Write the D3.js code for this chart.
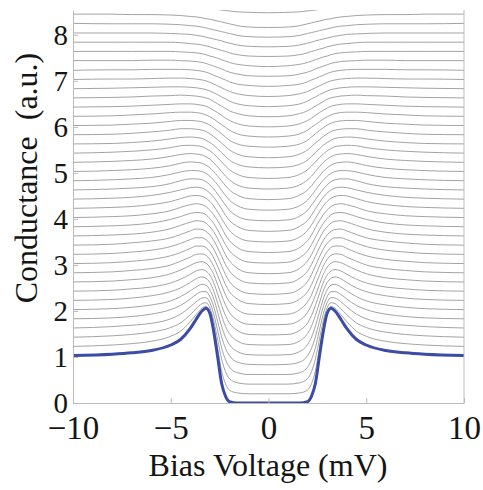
<!DOCTYPE html>
<html lang="en">
<head>
<meta charset="UTF-8">
<title>Conductance spectra</title>
<script src="https://d3js.org/d3.v7.min.js"></script>
<style>
  body { margin: 0; background: #fff; }
  svg text { font-family: "Liberation Serif", "DejaVu Serif", serif; fill: #151515; }
</style>
</head>
<body>
<svg id="chart" width="483" height="490"></svg>
<script>
// bias points (mV), positive half; spectra are read as symmetric
const biasHalf = [0, 1, 1.6, 2, 2.2, 2.4, 2.6, 2.8, 3, 3.2, 3.4, 3.7, 4, 4.5, 5, 6, 7, 8, 10];

// normalized conductance, one row per spectrum (bottom = lowest temperature)
const spectra = [
  [0, 0, 0, 0.03, 0.15, 0.43, 1.0, 1.55, 1.95, 2.06, 2.0, 1.82, 1.62, 1.38, 1.26, 1.14, 1.09, 1.06, 1.03],
  [0.0, 0.0, 0.02, 0.08, 0.22, 0.5, 0.98, 1.45, 1.78, 1.9, 1.86, 1.72, 1.57, 1.36, 1.25, 1.14, 1.09, 1.06, 1.03],
  [0.01, 0.01, 0.04, 0.13, 0.28, 0.56, 0.97, 1.38, 1.67, 1.78, 1.76, 1.65, 1.52, 1.34, 1.24, 1.14, 1.09, 1.06, 1.03],
  [0.02, 0.02, 0.06, 0.18, 0.34, 0.6, 0.97, 1.33, 1.58, 1.69, 1.68, 1.6, 1.49, 1.33, 1.23, 1.13, 1.09, 1.06, 1.03],
  [0.03, 0.04, 0.09, 0.23, 0.39, 0.64, 0.97, 1.29, 1.51, 1.62, 1.62, 1.56, 1.46, 1.32, 1.23, 1.13, 1.08, 1.05, 1.03],
  [0.04, 0.05, 0.12, 0.27, 0.43, 0.67, 0.97, 1.26, 1.46, 1.56, 1.58, 1.52, 1.44, 1.31, 1.22, 1.13, 1.08, 1.05, 1.03],
  [0.06, 0.07, 0.15, 0.31, 0.47, 0.7, 0.97, 1.23, 1.42, 1.51, 1.54, 1.5, 1.42, 1.3, 1.22, 1.13, 1.08, 1.05, 1.03],
  [0.08, 0.09, 0.18, 0.34, 0.5, 0.72, 0.97, 1.21, 1.38, 1.47, 1.5, 1.47, 1.4, 1.29, 1.21, 1.12, 1.08, 1.05, 1.03],
  [0.1, 0.11, 0.2, 0.37, 0.53, 0.74, 0.97, 1.19, 1.35, 1.44, 1.47, 1.45, 1.39, 1.29, 1.21, 1.12, 1.08, 1.05, 1.03],
  [0.12, 0.13, 0.23, 0.4, 0.55, 0.76, 0.97, 1.17, 1.32, 1.41, 1.44, 1.43, 1.37, 1.28, 1.2, 1.12, 1.08, 1.05, 1.03],
  [0.14, 0.16, 0.26, 0.42, 0.57, 0.77, 0.97, 1.15, 1.29, 1.38, 1.41, 1.41, 1.36, 1.27, 1.2, 1.12, 1.08, 1.05, 1.03],
  [0.16, 0.18, 0.28, 0.44, 0.59, 0.78, 0.97, 1.14, 1.27, 1.35, 1.39, 1.39, 1.35, 1.27, 1.2, 1.12, 1.08, 1.05, 1.03],
  [0.19, 0.21, 0.31, 0.47, 0.61, 0.79, 0.97, 1.13, 1.25, 1.33, 1.37, 1.38, 1.34, 1.26, 1.19, 1.12, 1.08, 1.05, 1.03],
  [0.21, 0.23, 0.33, 0.49, 0.62, 0.8, 0.97, 1.12, 1.23, 1.31, 1.35, 1.36, 1.33, 1.26, 1.19, 1.11, 1.07, 1.05, 1.03],
  [0.24, 0.26, 0.36, 0.51, 0.64, 0.8, 0.96, 1.1, 1.21, 1.29, 1.33, 1.34, 1.32, 1.25, 1.19, 1.11, 1.07, 1.05, 1.03],
  [0.27, 0.29, 0.38, 0.53, 0.65, 0.81, 0.96, 1.09, 1.19, 1.27, 1.31, 1.33, 1.31, 1.25, 1.18, 1.11, 1.07, 1.05, 1.03],
  [0.3, 0.32, 0.41, 0.55, 0.67, 0.81, 0.95, 1.08, 1.18, 1.25, 1.29, 1.31, 1.3, 1.24, 1.18, 1.11, 1.07, 1.05, 1.03],
  [0.33, 0.35, 0.44, 0.57, 0.68, 0.82, 0.95, 1.07, 1.16, 1.23, 1.27, 1.29, 1.28, 1.23, 1.18, 1.11, 1.07, 1.05, 1.03],
  [0.36, 0.38, 0.46, 0.59, 0.7, 0.82, 0.94, 1.05, 1.14, 1.21, 1.25, 1.27, 1.27, 1.23, 1.17, 1.1, 1.07, 1.05, 1.03],
  [0.39, 0.41, 0.49, 0.61, 0.71, 0.82, 0.94, 1.04, 1.13, 1.19, 1.23, 1.25, 1.25, 1.22, 1.17, 1.1, 1.07, 1.05, 1.03],
  [0.42, 0.44, 0.52, 0.63, 0.72, 0.83, 0.93, 1.03, 1.11, 1.17, 1.21, 1.23, 1.24, 1.21, 1.16, 1.1, 1.07, 1.05, 1.03],
  [0.45, 0.47, 0.54, 0.65, 0.73, 0.83, 0.93, 1.02, 1.1, 1.15, 1.19, 1.21, 1.22, 1.2, 1.16, 1.1, 1.07, 1.05, 1.03],
  [0.48, 0.5, 0.57, 0.67, 0.75, 0.84, 0.93, 1.01, 1.08, 1.13, 1.17, 1.19, 1.2, 1.19, 1.15, 1.1, 1.07, 1.05, 1.03],
  [0.51, 0.53, 0.59, 0.68, 0.76, 0.84, 0.92, 1.0, 1.06, 1.11, 1.15, 1.17, 1.18, 1.17, 1.14, 1.09, 1.06, 1.04, 1.03],
  [0.53, 0.55, 0.61, 0.7, 0.77, 0.85, 0.92, 0.99, 1.05, 1.1, 1.13, 1.15, 1.16, 1.16, 1.13, 1.09, 1.06, 1.04, 1.03],
  [0.56, 0.58, 0.63, 0.71, 0.78, 0.85, 0.92, 0.98, 1.04, 1.08, 1.11, 1.13, 1.14, 1.14, 1.12, 1.08, 1.06, 1.04, 1.03],
  [0.58, 0.6, 0.65, 0.73, 0.79, 0.85, 0.91, 0.97, 1.02, 1.06, 1.09, 1.11, 1.12, 1.12, 1.11, 1.08, 1.06, 1.04, 1.03],
  [0.6, 0.62, 0.67, 0.74, 0.79, 0.85, 0.91, 0.96, 1.01, 1.05, 1.07, 1.09, 1.1, 1.1, 1.09, 1.07, 1.05, 1.04, 1.03],
  [0.62, 0.64, 0.69, 0.75, 0.8, 0.85, 0.9, 0.95, 1.0, 1.03, 1.05, 1.07, 1.08, 1.09, 1.08, 1.07, 1.05, 1.04, 1.03],
  [0.64, 0.66, 0.7, 0.76, 0.81, 0.85, 0.9, 0.94, 0.98, 1.01, 1.03, 1.05, 1.06, 1.07, 1.07, 1.06, 1.05, 1.04, 1.03],
  [0.66, 0.68, 0.72, 0.77, 0.81, 0.85, 0.89, 0.93, 0.97, 1.0, 1.02, 1.04, 1.05, 1.06, 1.06, 1.05, 1.04, 1.04, 1.03],
  [0.68, 0.7, 0.73, 0.78, 0.82, 0.85, 0.89, 0.92, 0.96, 0.99, 1.01, 1.03, 1.04, 1.05, 1.05, 1.05, 1.04, 1.04, 1.03],
  [0.7, 0.71, 0.75, 0.79, 0.82, 0.86, 0.89, 0.92, 0.95, 0.98, 1.0, 1.02, 1.03, 1.04, 1.05, 1.05, 1.04, 1.04, 1.04],
  [0.71, 0.73, 0.76, 0.8, 0.83, 0.86, 0.89, 0.92, 0.94, 0.97, 0.99, 1.01, 1.02, 1.03, 1.04, 1.04, 1.04, 1.04, 1.04],
  [0.73, 0.74, 0.77, 0.81, 0.84, 0.86, 0.89, 0.91, 0.94, 0.96, 0.98, 1.0, 1.01, 1.03, 1.04, 1.04, 1.04, 1.04, 1.04],
  [0.74, 0.75, 0.78, 0.82, 0.84, 0.87, 0.89, 0.91, 0.93, 0.95, 0.97, 0.99, 1.01, 1.02, 1.03, 1.04, 1.04, 1.04, 1.04],
  [0.75, 0.76, 0.79, 0.83, 0.85, 0.87, 0.89, 0.91, 0.93, 0.95, 0.97, 0.99, 1.0, 1.02, 1.03, 1.04, 1.04, 1.04, 1.05],
  [0.76, 0.77, 0.8, 0.84, 0.86, 0.88, 0.9, 0.92, 0.94, 0.95, 0.97, 0.99, 1.0, 1.02, 1.03, 1.04, 1.04, 1.05, 1.05],
  [0.88, 0.89, 0.9, 0.92, 0.93, 0.94, 0.95, 0.96, 0.97, 0.98, 0.99, 1.0, 1.01, 1.02, 1.03, 1.04, 1.04, 1.05, 1.05]
];

// vertical offset added to each spectrum
const offsets = [0, 0.2, 0.4, 0.6, 0.8, 1.0, 1.2, 1.4, 1.6, 1.8, 2.0, 2.2, 2.4, 2.6, 2.8, 3.0,
  3.2, 3.4, 3.6, 3.8, 4.0, 4.2, 4.4, 4.6, 4.8, 5.0, 5.2, 5.4, 5.6, 5.8, 6.0, 6.2, 6.4, 6.6,
  6.8, 7.0, 7.2, 7.4, 7.6];

const xTicks = [-10, -5, 0, 5, 10];
const yTicks = [0, 1, 2, 3, 4, 5, 6, 7, 8];

const svg = d3.select("#chart");
const x = d3.scaleLinear().domain([-10, 10]).range([73, 464]);
const y = d3.scaleLinear().domain([0, 8.54]).range([403, 10]);

// mirror half spectra onto negative bias
const bias = biasHalf.slice(1).map(v => -v).reverse().concat(biasHalf);
const full = row => row.slice(1).reverse().concat(row);

svg.append("defs").append("clipPath").attr("id", "plotClip")
  .append("rect").attr("x", 73).attr("y", 10).attr("width", 391).attr("height", 393);

const plot = svg.append("g").attr("clip-path", "url(#plotClip)");

const line = off => d3.line()
  .x((d, i) => x(bias[i]))
  .y(d => y(d + off))
  .curve(d3.curveMonotoneX);

// gray spectra first, lowest-temperature one on top in blue
for (let k = spectra.length - 1; k >= 1; k--) {
  plot.append("path").datum(full(spectra[k]))
    .attr("fill", "none").attr("stroke", "#999").attr("stroke-width", 0.9)
    .attr("d", line(offsets[k]));
}
plot.append("path").datum(full(spectra[0]))
  .attr("fill", "none").attr("stroke", "#3b4ba6").attr("stroke-width", 3)
  .attr("stroke-linejoin", "round")
  .attr("d", line(offsets[0]));

// axes
const xAxis = svg.append("g").attr("transform", "translate(0,403)")
  .call(d3.axisBottom(x).tickValues(xTicks).tickSizeInner(-5).tickSizeOuter(0).tickPadding(13));
xAxis.selectAll("text").attr("font-size", 33).attr("dy", "0.71em");

const yAxis = svg.append("g").attr("transform", "translate(73,0)")
  .call(d3.axisLeft(y).tickValues(yTicks).tickSizeInner(-5).tickSizeOuter(0).tickPadding(5));
yAxis.selectAll("text").attr("font-size", 29).attr("dy", "0.34em");

svg.selectAll(".domain, .tick line").attr("stroke", "#bbb");
svg.selectAll(".tick text").style("fill", "#151515");

svg.append("line").attr("x1", 464).attr("x2", 464).attr("y1", 10).attr("y2", 403)
  .attr("stroke", "#bbb");

svg.append("text").attr("x", 268).attr("y", 476).attr("text-anchor", "middle")
  .attr("font-size", 32).text("Bias Voltage (mV)");

svg.append("text").attr("transform", "translate(37,178) rotate(-90)")
  .attr("text-anchor", "middle").attr("font-size", 32).attr("xml:space", "preserve")
  .text("Conductance  (a.u.)");
</script>
</body>
</html>
